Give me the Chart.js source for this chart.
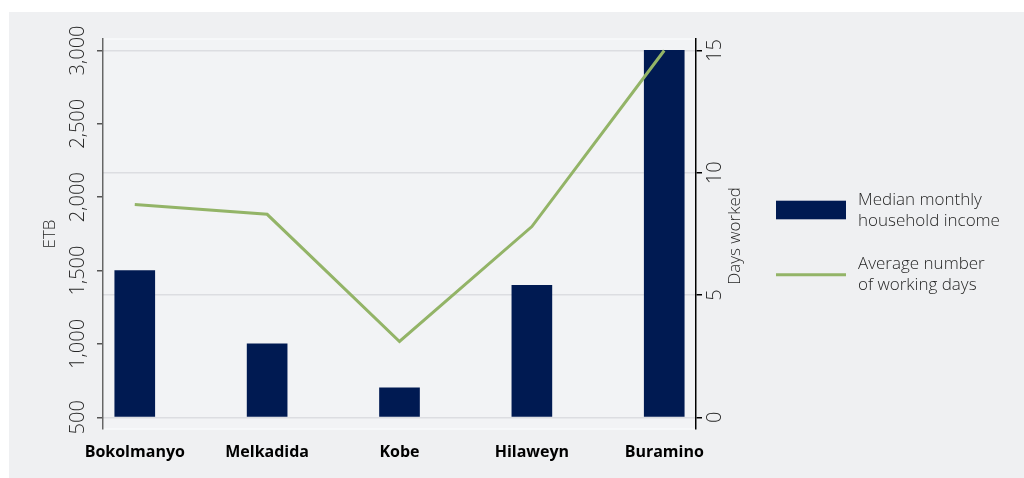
<!DOCTYPE html>
<html>
<head>
<meta charset="utf-8">
<script src="https://cdn.jsdelivr.net/npm/chart.js@4.4.1/dist/chart.umd.min.js"></script>
<style>
  html, body { margin: 0; padding: 0; background: #ffffff; }
  #panel { position: absolute; left: 9px; top: 12px; width: 1015px; height: 466px; background: #eff0f2; }
</style>
</head>
<body>
<div id="panel"><canvas id="chart"></canvas></div>
<script>
// Data
const sites = ['Bokolmanyo', 'Melkadida', 'Kobe', 'Hilaweyn', 'Buramino'];
const incomeEtb = [1500, 1000, 700, 1400, 3000];
const daysWorked = [8.7, 8.3, 3.1, 7.8, 15.0];
const incomeTicks = [500, 1000, 1500, 2000, 2500, 3000];
const dayTicks = [0, 5, 10, 15];
const legendLines = [
    ['Median monthly', 'household income'],
    ['Average number', 'of working days']
];

const FONT = '"Open Sans", "Noto Sans", sans-serif';
const NAVY = '#001a52';
const GREEN = '#93b467';
const TEXT = '#262626';

// plot area fill, right axis title and the legend
const decor = {
    id: 'decor',
    beforeDraw(chart) {
        const { ctx, chartArea: a } = chart;
        ctx.save();
        ctx.fillStyle = '#f2f3f5';
        ctx.fillRect(a.left, a.top, a.right - a.left, a.bottom - a.top);
        ctx.strokeStyle = '#f9fafb';
        ctx.lineWidth = 1.5;
        ctx.strokeRect(a.left, a.top, a.right - a.left, a.bottom - a.top);
        ctx.restore();
    },
    afterDraw(chart) {
        const { ctx, chartArea: a } = chart;
        const s = chart.scales.y2;
        const mid = (a.top + a.bottom) / 2;

        ctx.save();
        ctx.fillStyle = TEXT;
        ctx.font = '300 17px ' + FONT;
        ctx.textAlign = 'center';
        ctx.textBaseline = 'middle';
        ctx.translate(s.left + 39, mid + 2);
        ctx.rotate(-Math.PI / 2);
        ctx.fillText(s.options.title.text, 0, 0);
        ctx.restore();

        ctx.save();
        const x0 = a.right + 80;
        ctx.font = '300 17px ' + FONT;
        ctx.textAlign = 'left';
        ctx.textBaseline = 'alphabetic';
        chart.data.datasets.forEach((ds, i) => {
            const keyY = mid - 24 + i * 64.7;
            if (ds.type === 'bar') {
                ctx.fillStyle = ds.backgroundColor;
                ctx.fillRect(x0, keyY - 9.3, 70, 18.6);
            } else {
                ctx.strokeStyle = ds.borderColor;
                ctx.lineWidth = 3;
                ctx.beginPath();
                ctx.moveTo(x0, keyY);
                ctx.lineTo(x0 + 70, keyY);
                ctx.stroke();
            }
            ctx.fillStyle = TEXT;
            legendLines[i].forEach((line, j) => {
                ctx.fillText(line, x0 + 82, keyY - 5.5 + j * 21);
            });
        });
        ctx.restore();
    }
};

const ctx = document.getElementById('chart').getContext('2d');
new Chart(ctx, {
    data: {
        datasets: [
            {
                type: 'bar',
                label: legendLines[0].join(' '),
                data: sites.map((s, i) => ({ x: i + 1, y: incomeEtb[i] })),
                yAxisID: 'y',
                base: 500,
                backgroundColor: NAVY,
                borderWidth: 0,
                barThickness: 40,
                order: 1
            },
            {
                type: 'line',
                label: legendLines[1].join(' '),
                data: sites.map((s, i) => ({ x: i + 1, y: daysWorked[i] })),
                yAxisID: 'y2',
                borderColor: GREEN,
                borderWidth: 3,
                pointRadius: 0,
                tension: 0,
                fill: false,
                order: 0
            }
        ]
    },
    options: {
        responsive: true,
        maintainAspectRatio: false,
        animation: false,
        layout: { padding: { left: 0, right: 268, top: 27, bottom: 0 } },
        plugins: {
            legend: { display: false },
            tooltip: { enabled: false }
        },
        scales: {
            x: {
                type: 'linear',
                offset: false,
                min: 0.76,
                max: 5.24,
                afterBuildTicks: s => { s.ticks = sites.map((n, i) => ({ value: i + 1 })); },
                afterFit: s => { s.height = 49; },
                ticks: {
                    callback: (v, i) => sites[i],
                    color: '#000000',
                    font: { family: FONT, size: 16, weight: 'bold' },
                    padding: 6,
                    maxRotation: 0,
                    autoSkip: false
                },
                grid: { display: false, offset: false },
                border: { display: false }
            },
            y: {
                position: 'left',
                min: 420,
                max: 3078,
                afterBuildTicks: s => { s.ticks = incomeTicks.map(v => ({ value: v })); },
                afterFit: s => { s.width = 94; },
                ticks: {
                    minRotation: 90,
                    maxRotation: 90,
                    crossAlign: 'center',
                    padding: -6.5,
                    color: TEXT,
                    font: { family: FONT, size: 20, weight: 300 },
                    callback: v => v.toLocaleString('en-US')
                },
                grid: { drawOnChartArea: false, tickLength: 6, color: '#555555', lineWidth: 1.5 },
                border: { color: '#666666', width: 1.5 },
                title: {
                    display: true,
                    text: 'ETB',
                    color: TEXT,
                    font: { family: FONT, size: 17, weight: 300 },
                    padding: { top: 31 }
                }
            },
            y2: {
                position: 'right',
                min: -0.48,
                max: 15.47,
                afterBuildTicks: s => { s.ticks = dayTicks.map(v => ({ value: v })); },
                afterFit: s => { s.width = 60; },
                ticks: {
                    minRotation: 90,
                    maxRotation: 90,
                    crossAlign: 'center',
                    padding: 1.5,
                    color: TEXT,
                    font: { family: FONT, size: 20, weight: 300 }
                },
                grid: { color: '#dcdde1', lineWidth: 1.5, tickColor: '#000000', tickLength: 6 },
                border: { color: '#000000', width: 1.5 },
                title: { display: false, text: 'Days worked' }
            }
        }
    },
    plugins: [decor]
});
</script>
</body>
</html>
